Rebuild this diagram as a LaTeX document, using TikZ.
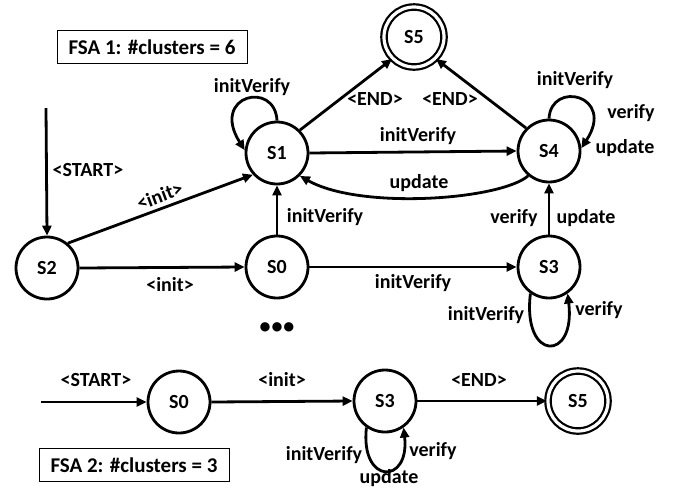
\documentclass[tikz,border=0pt]{standalone}
\usepackage{fontspec}
\setmainfont{Carlito}
\usetikzlibrary{arrows.meta}
\begin{document}
\begin{tikzpicture}[x=1pt,y=-1pt,
  every node/.style={font=\fontsize{20}{23}\selectfont\bfseries},
  state/.style={circle,draw,line width=2.8pt,minimum size=62pt,inner sep=0pt},
  accept/.style={circle,draw,line width=2.2pt,double,double distance=3.2pt,minimum size=60pt,inner sep=0pt},
  arr/.style={line width=2.8pt,-{Triangle[length=10pt,width=9pt]}},
  lbl/.style={inner sep=1pt},
  titlebox/.style={draw,line width=0.9pt,minimum width=190pt,minimum height=33pt,inner sep=2pt,font=\fontsize{21}{24}\selectfont\bfseries}]
\useasboundingbox (0,0) rectangle (676,491);
% FSA 1
\node[titlebox] (t1) at (152,47) {FSA 1: \#clusters = 6};
\node[accept] (S5) at (414,37) {S5};
\node[state] (S1) at (277,153) {S1};
\node[state] (S4) at (549,151) {S4};
\node[state] (S2) at (47,268) {S2};
\node[state] (S0) at (277,267) {S0};
\node[state] (S3) at (549,267) {S3};
\coordinate (st1) at (46,108);
\draw[arr] (st1) -- (S2.north);
\node[lbl] (l1) at (88,170) {<START>};
\draw[arr] (S2.50) -- node[lbl,sloped,above=3pt,pos=0.52] (l2) {<init>} (S1.222);
\draw[arr] (S2.east) -- (S0.west);
\node[lbl] (l3) at (170,285) {<init>};
\draw[arr] (S0.north) -- (S1.south);
\node[lbl] (l4) at (325,217) {initVerify};
\draw[arr] (S0.east) -- (S3.west);
\node[lbl] (l5) at (413,283) {initVerify};
\draw[arr] (S1.east) -- (S4.west);
\node[lbl] (l6) at (418,136) {initVerify};
\draw[arr] (S4.230) .. controls (500,200) and (360,210) .. (S1.-45);
\node[lbl] (l7) at (419,183) {update};
\draw[arr] (S1.45) -- (S5.-135);
\node[lbl] (l8) at (375,99) {<END>};
\draw[arr] (S4.135) -- (S5.-45);
\node[lbl] (l9) at (450,99) {<END>};
\draw[arr] (S3.north) -- (S4.south);
\node[lbl] (l10) at (514,218) {verify};
\node[lbl] (l11) at (586,218) {update};
\draw[arr] (S1.90) .. controls (275,80) and (210,95) .. (S1.175);
\node[lbl] (l12) at (252,87) {initVerify};
\draw[arr] (S4.90) .. controls (551,80) and (616,95) .. (S4.5);
\node[lbl] (l13) at (575,80) {initVerify};
\node[lbl] (l14) at (631,113) {verify};
\node[lbl] (l15) at (625,148) {update};
\draw[arr] (S3.235) .. controls (522,362) and (576,362) .. (S3.305);
\node[lbl] (l16) at (486,315) {initVerify};
\node[lbl] (l17) at (599,310) {verify};
\node (dots) at (277,328) {\fontsize{22}{22}\selectfont •\kern1pt•\kern1pt•};
% FSA 2
\node[state] (B0) at (179,402) {S0};
\node[state] (B3) at (385,401) {S3};
\node[accept] (B5) at (578,401) {S5};
\coordinate (st2) at (41,402);
\draw[arr] (st2) -- (B0.west);
\node[lbl] (m1) at (96,380) {<START>};
\draw[arr] (B0.east) -- (B3.west);
\node[lbl] (m2) at (282,380) {<init>};
\draw[arr] (B3.east) -- (B5.west);
\node[lbl] (m3) at (479,380) {<END>};
\draw[arr] (B3.235) .. controls (360,485) and (410,485) .. (B3.305);
\node[lbl] (m4) at (324,455) {initVerify};
\node[lbl] (m5) at (433,451) {verify};
\node[lbl] (m6) at (389,478) {update};
\node[titlebox] (t2) at (134,465) {FSA 2: \#clusters = 3};
\end{tikzpicture}
\end{document}
